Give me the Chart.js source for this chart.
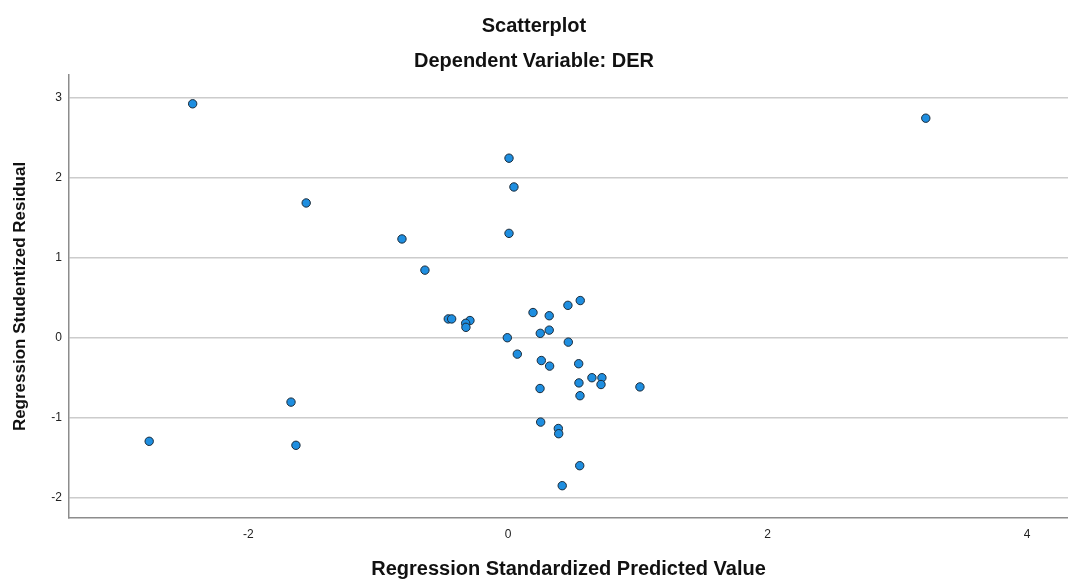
<!DOCTYPE html>
<html>
<head>
<meta charset="utf-8">
<script src="https://cdn.jsdelivr.net/npm/chart.js@4/dist/chart.umd.min.js"></script>
<style>
  html, body { margin: 0; padding: 0; background: #fff; }
</style>
</head>
<body>
<canvas id="chart" width="1068" height="579"></canvas>
<script>
// Standardized predicted value (x) vs studentized residual (y)
const predicted = [
  -2.43, -1.555, 3.22, 0.008, 0.046, -0.817, 0.008, -0.64, -2.765, -1.672, -1.634,
  -0.46, -0.434, -0.293, -0.326, -0.324, -0.005, 0.072, 0.193, 0.318, 0.249, 0.318,
  0.462, 0.557, 0.465, 0.257, 0.321, 0.545, 0.647, 0.724, 0.547, 0.717, 1.017,
  0.247, 0.555, 0.252, 0.388, 0.391, 0.553, 0.418
];
const residual = [
  2.92, 1.68, 2.74, 2.24, 1.88, 1.23, 1.30, 0.84, -1.30, -0.81, -1.35,
  0.23, 0.23, 0.21, 0.175, 0.125, -0.005, -0.21, 0.31, 0.27, 0.05, 0.09,
  0.40, 0.46, -0.06, -0.29, -0.36, -0.33, -0.505, -0.505, -0.57, -0.59, -0.62,
  -0.64, -0.73, -1.06, -1.14, -1.205, -1.605, -1.855
];
const xTicks = [-2, 0, 2, 4];
const yTicks = [-2, -1, 0, 1, 2, 3];

const points = predicted.map((x, i) => ({ x, y: residual[i] }));

const fontFamily = '"Liberation Sans", Arial, sans-serif';

new Chart(document.getElementById('chart'), {
  type: 'scatter',
  data: {
    datasets: [{
      data: points,
      backgroundColor: '#1e8ee0',
      borderColor: '#1b2a38',
      borderWidth: 1,
      pointRadius: 4.2,
      pointHoverRadius: 4.2
    }]
  },
  options: {
    responsive: false,
    animation: false,
    layout: { padding: 0, autoPadding: false },
    plugins: {
      legend: { display: false },
      tooltip: { enabled: false },
      title: {
        display: true,
        text: 'Scatterplot',
        color: '#111',
        font: { family: fontFamily, size: 20, weight: 'bold', lineHeight: 1.2 },
        padding: { top: 14, bottom: 0 }
      },
      subtitle: {
        display: true,
        text: 'Dependent Variable: DER',
        color: '#111',
        font: { family: fontFamily, size: 20, weight: 'bold', lineHeight: 1.2 },
        padding: { top: 11, bottom: 2 }
      }
    },
    scales: {
      x: {
        type: 'linear',
        min: -3.383,
        max: 4.316,
        afterFit: (scale) => {
          scale.height = 61;
          scale.paddingLeft = 0;
          scale.paddingRight = 0;
        },
        afterBuildTicks: (scale) => { scale.ticks = xTicks.map(v => ({ value: v })); },
        grid: { display: false, drawTicks: false },
        border: { display: true, color: '#8c8c8c', width: 1.5 },
        ticks: {
          color: '#222',
          padding: 9.5,
          font: { family: fontFamily, size: 12 }
        },
        title: {
          display: true,
          text: 'Regression Standardized Predicted Value',
          color: '#111',
          font: { family: fontFamily, size: 20, weight: 'bold', lineHeight: 1 },
          padding: { top: 0, bottom: 0 }
        }
      },
      y: {
        type: 'linear',
        min: -2.259,
        max: 3.28,
        afterFit: (scale) => {
          scale.width = 69;
          scale.paddingTop = 0;
          scale.paddingBottom = 0;
        },
        afterBuildTicks: (scale) => { scale.ticks = yTicks.map(v => ({ value: v })); },
        grid: { color: '#cccccc', lineWidth: 1.5, drawTicks: false },
        border: { display: true, color: '#8c8c8c', width: 1.5 },
        ticks: {
          color: '#222',
          padding: 7,
          font: { family: fontFamily, size: 12 }
        },
        title: {
          display: true,
          text: 'Regression Studentized Residual',
          color: '#111',
          font: { family: fontFamily, size: 17, weight: 'bold', lineHeight: 1.2 },
          padding: { top: 10, bottom: 0 }
        }
      }
    }
  }
});
</script>
</body>
</html>
